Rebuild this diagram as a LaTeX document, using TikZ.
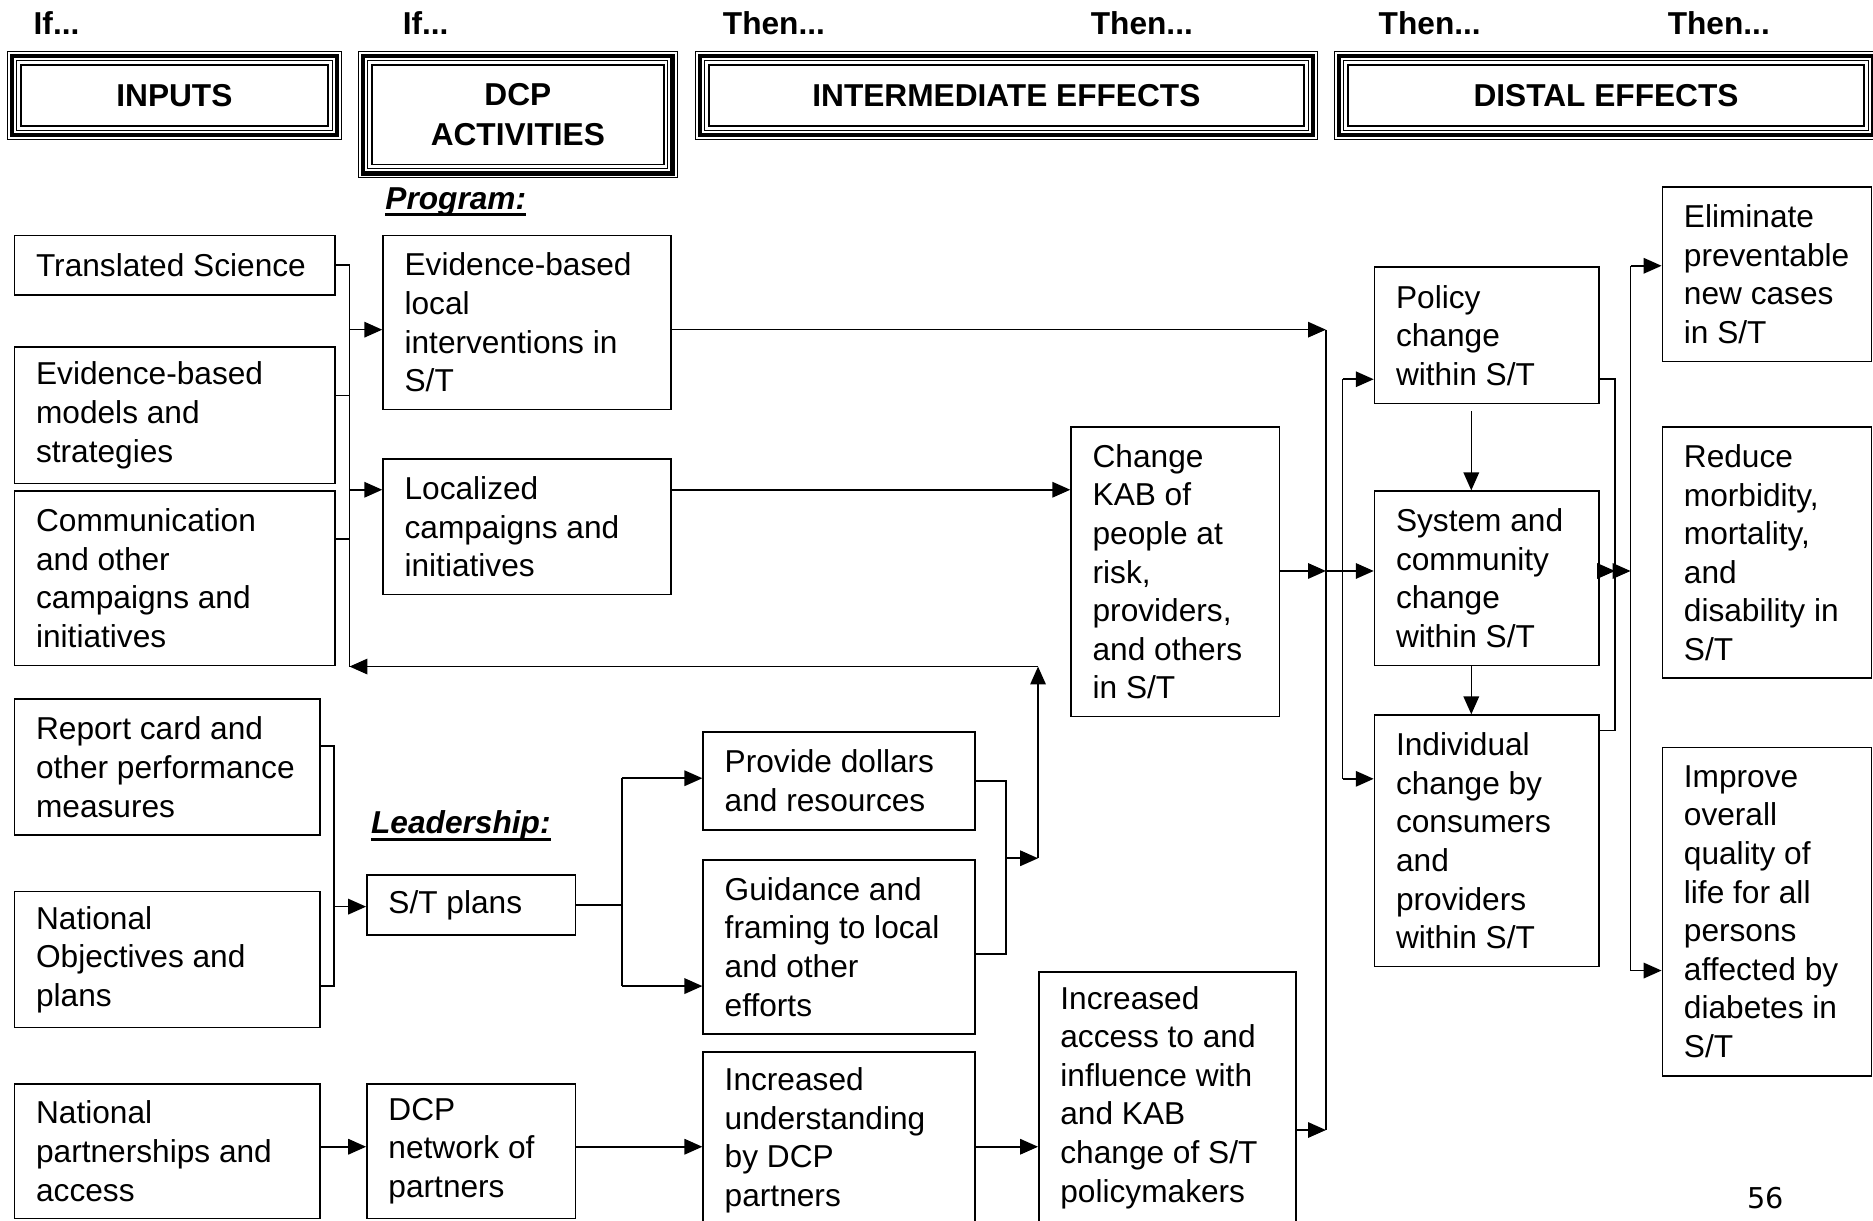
\documentclass[tikz,border=0pt]{standalone}
\usepackage{fontspec}
\setmainfont{Liberation Sans}
\newfontfamily\pagenofont{DejaVu Sans}
\usetikzlibrary{arrows.meta}

\newcommand{\bodyfont}{\fontsize{26.5pt}{32.3pt}\selectfont}
\newcommand{\headfont}{\bfseries\fontsize{26.5pt}{33.5pt}\selectfont}
% left-aligned text block with an 18pt left margin inside a box of width #1 (pt)
\newcommand{\tb}[2]{\hspace*{18pt}\raisebox{-1.5pt}{\parbox{\dimexpr#1pt-18pt\relax}{\raggedright#2}}}
% \bx{name}{x}{y}{width}{height}{text}: box with its top left corner at (x,y)
\newcommand{\bx}[6]{\node[box, minimum width=#4pt, minimum height=#5pt] (#1) at (#2,#3) {\tb{#4}{#6}};}
% triple border around a column heading
\newcommand{\triframe}[1]{%
  \draw[line width=0.7pt] ([xshift=-3.5pt,yshift=3.5pt]#1.north west) rectangle ([xshift=3.5pt,yshift=-3.5pt]#1.south east);
  \draw[line width=3.6pt] ([xshift=-7.5pt,yshift=7.5pt]#1.north west) rectangle ([xshift=7.5pt,yshift=-7.5pt]#1.south east);
  \draw[line width=0.9pt] ([xshift=-11.2pt,yshift=11.2pt]#1.north west) rectangle ([xshift=11.2pt,yshift=-11.2pt]#1.south east);
}

\tikzset{
  box/.style={draw, line width=1.4pt, rectangle, anchor=north west, inner sep=0pt, font=\bodyfont},
  header/.style={draw, line width=1.6pt, rectangle, inner sep=0pt, outer sep=0pt, font=\headfont, align=center},
  link/.style={line width=1.3pt},
  arr/.style={link, -{Triangle[length=15pt,width=13pt]}},
  colhead/.style={font=\headfont, anchor=base west, inner sep=0pt},
  subhead/.style={font=\bfseries\itshape\fontsize{26.5pt}{32pt}\selectfont, anchor=base west, inner sep=0pt},
}

\begin{document}
\begin{tikzpicture}[x=1pt, y=-1pt]
\fill[white] (0,0) rectangle (1568,1022);
\useasboundingbox (0,0) rectangle (1568,1022);
\clip (0,0) rectangle (1568,1022);

% column captions
\node[colhead] (if1) at (28,29) {If...};
\node[colhead] (if2) at (337,29) {If...};
\node[colhead] (then1) at (605,29) {Then...};
\node[colhead] (then2) at (913,29) {Then...};
\node[colhead] (then3) at (1154,29) {Then...};
\node[colhead] (then4) at (1396,29) {Then...};

% column headings
\node[header, minimum width=257.4pt, minimum height=51.4pt] (hin) at (146,80) {INPUTS};
\node[header, minimum width=244.2pt, minimum height=83.4pt] (hact) at (433.5,96) {DCP\\ACTIVITIES};
\node[header, minimum width=498.4pt, minimum height=51.4pt] (hint) at (842.5,80) {INTERMEDIATE EFFECTS};
\node[header, minimum width=432.6pt, minimum height=51.4pt] (hdis) at (1344.5,80) {DISTAL EFFECTS};
\triframe{hin}
\triframe{hact}
\triframe{hint}
\triframe{hdis}

% section labels
\node[subhead] (prog) at (322.5,175) {Program:};
\draw[line width=2.4pt] ([yshift=-4.5pt]prog.base west) -- ([yshift=-4.5pt]prog.base east);
\node[subhead] (lead) at (310.5,698) {Leadership:};
\draw[line width=2.4pt] ([yshift=-4.5pt]lead.base west) -- ([yshift=-4.5pt]lead.base east);

% inputs
\bx{ts}{11.5}{196.5}{268}{49.5}{Translated Science}
\bx{ebm}{11.5}{290}{268}{114}{Evidence-based\\models and\\strategies}
\bx{comm}{11.5}{410.5}{268}{146}{Communication\\and other\\campaigns and\\initiatives}
\bx{rc}{11.5}{584.5}{255.5}{114}{Report card and\\other performance\\measures}
\bx{nop}{11.5}{745.5}{255.5}{114}{National\\Objectives and\\plans}
\bx{npa}{11.5}{906.5}{255.5}{113}{National\\partnerships and\\access}

% activities
\bx{ebl}{320}{196.5}{241}{145.5}{Evidence-based\\local\\interventions in\\S/T}
\bx{loc}{320}{383.5}{241}{113.5}{Localized\\campaigns and\\initiatives}
\bx{stp}{306.5}{732}{174.5}{50}{S/T plans}
\bx{net}{306.5}{906.5}{174.5}{113}{DCP\\network of\\partners}

% intermediate effects
\bx{pdr}{588}{612}{227.5}{82}{Provide dollars\\and resources}
\bx{gui}{588}{719}{227.5}{146}{Guidance and\\framing to local\\and other\\efforts}
\bx{iu}{588}{880}{227.5}{148}{Increased\\understanding\\by DCP\\partners}
\bx{kab}{896}{357}{174.5}{242}{Change\\KAB of\\people at\\risk,\\providers,\\and others\\in S/T}
\bx{acc}{869}{813}{215}{210}{Increased\\access to and\\influence with\\and KAB\\change of S/T\\policymakers}

% distal effects
\bx{pol}{1150}{223}{188}{114}{Policy\\change\\within S/T}
\bx{sys}{1150}{410.5}{188}{146}{System and\\community\\change\\within S/T}
\bx{ind}{1150}{598}{188}{210.5}{Individual\\change by\\consumers\\and\\providers\\within S/T}
\bx{eli}{1391}{156}{175}{146}{Eliminate\\preventable\\new cases\\in S/T}
\bx{red}{1391}{357}{175}{210}{Reduce\\morbidity,\\mortality,\\and\\disability in\\S/T}
\bx{imp}{1391}{625}{175}{275}{Improve\\overall\\quality of\\life for all\\persons\\affected by\\diabetes in\\S/T}

\node[font=\pagenofont\fontsize{24pt}{28pt}\selectfont, inner sep=0pt] (pg) at (1478,1003) {56};

% junction points
\coordinate (fb)    at (292.6,558);
\coordinate (jEbm)  at (292.6,331);
\coordinate (jComm) at (292.6,451);
\coordinate (jEbl)  at (292.6,276);
\coordinate (jLoc)  at (292.6,410);
\coordinate (bTop)  at (1110,276);
\coordinate (bKab)  at (1110,478);
\coordinate (bAcc)  at (1110,946);
\coordinate (dPol)  at (1124,317.5);
\coordinate (dInd)  at (1124,652);
\coordinate (rJ)    at (1352,478);
\coordinate (rInd)  at (1352,611.5);
\coordinate (oBus)  at (1365,478);
\coordinate (oTop)  at (1365,222.5);
\coordinate (oBot)  at (1365,812.5);
\coordinate (lTop)  at (279.5,624.5);
\coordinate (lBot)  at (279.5,825.5);
\coordinate (lJ)    at (279.5,759);
\coordinate (sTop)  at (520.6,651.5);
\coordinate (sBot)  at (520.6,825.5);
\coordinate (gJ)    at (842,798.5);
\coordinate (gMid)  at (842,718.5);
\coordinate (upB)   at (869,718.5);
\coordinate (upT)   at (869,558);
\coordinate (pRow)  at (0,960);

% program inputs
\draw[link] (ts.east) -| (fb);
\draw[link] (ebm.east |- jEbm) -- (jEbm);
\draw[link] (comm.east |- jComm) -- (jComm);
\draw[arr] (jEbl) -- (ebl.west |- jEbl);
\draw[arr] (jLoc) -- (loc.west |- jLoc);

% program to effects
\draw[arr] (ebl.east |- bTop) -- (bTop);
\draw[link] (bTop) -- (bAcc);
\draw[arr] (loc.east |- jLoc) -- (kab.west |- jLoc);
\draw[arr] (kab.east |- bKab) -- (bKab);
\draw[arr] (bKab) -- (sys.west |- bKab);
\draw[arr] (acc.east |- bAcc) -- (bAcc);
\draw[link] (dPol) -- (dInd);
\draw[arr] (dPol) -- (pol.west |- dPol);
\draw[arr] (dInd) -- (ind.west |- dInd);
\draw[arr] ([xshift=-13pt,yshift=-6pt]pol.south) -- ([xshift=-13pt]sys.north);
\draw[arr] ([xshift=-13pt]sys.south) -- ([xshift=-13pt]ind.north);

% distal outcomes
\draw[link] (pol.east |- dPol) -| (rInd) -- (ind.east |- rInd);
\draw[arr] (sys.east |- rJ) -- (rJ);
\draw[arr] (rJ) -- (oBus);
\draw[link] (oTop) -- (oBot);
\draw[arr] (oTop) -- (eli.west |- oTop);
\draw[arr] (oBot) -- (imp.west |- oBot);

% leadership
\draw[link] (rc.east |- lTop) -- (lTop) -- (lBot) -- (nop.east |- lBot);
\draw[arr] (lJ) -- (stp.west |- lJ);
\draw[link] (stp.east) -- (stp.east -| sTop);
\draw[link] (sTop) -- (sBot);
\draw[arr] (sTop) -- (pdr.west |- sTop);
\draw[arr] (sBot) -- (gui.west |- sBot);
\draw[link] (pdr.east) -| (gJ) -- (gui.east |- gJ);
\draw[arr] (gMid) -- (upB);
\draw[arr] (upB) -- (upT);
\draw[arr] (upT) -- (fb);

% partnerships
\draw[arr] (npa.east |- pRow) -- (net.west |- pRow);
\draw[arr] (net.east |- pRow) -- (iu.west |- pRow);
\draw[arr] (iu.east |- pRow) -- (acc.west |- pRow);
\end{tikzpicture}
\end{document}
